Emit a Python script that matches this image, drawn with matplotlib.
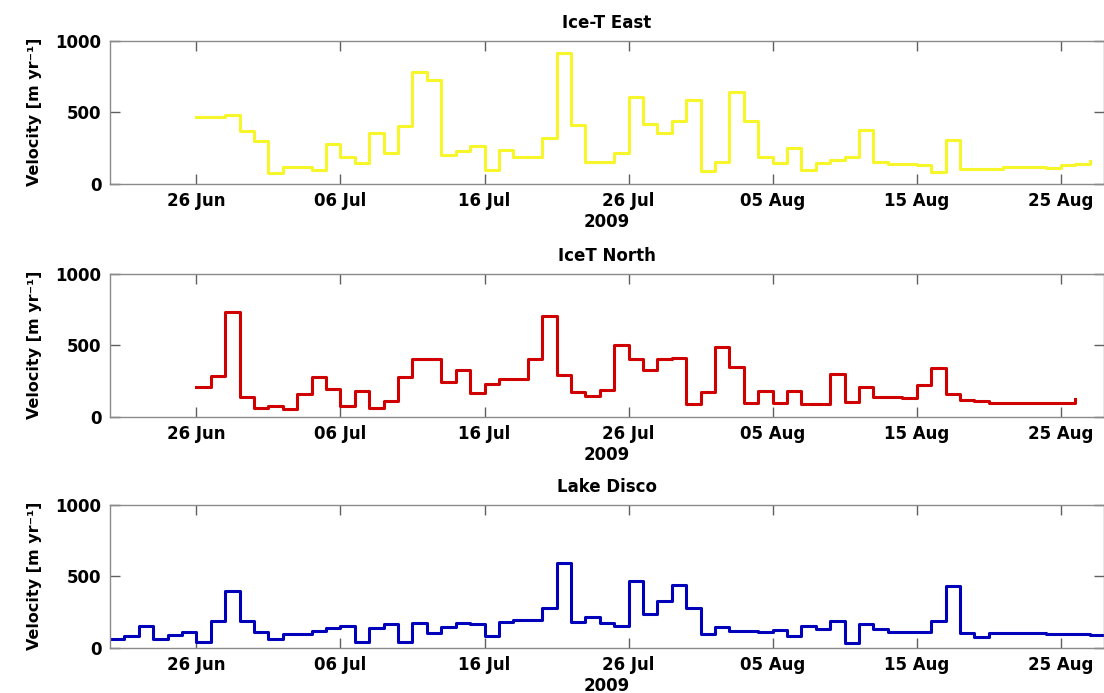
import numpy as np
import matplotlib
matplotlib.use("Agg")
import matplotlib.pyplot as plt
import matplotlib.dates as mdates

plt.rcParams["font.family"] = "DejaVu Sans"
plt.rcParams["font.weight"] = "bold"

# daily velocities (m/yr), one value per day from the start date
east_start = "2009-06-26"
east = [465, 468, 480, 368, 303, 80, 120, 120, 100, 276, 188, 143, 356, 218,
        402, 782, 724, 200, 230, 264, 99, 237, 188, 188, 318, 915, 414, 154,
        154, 214, 609, 421, 356, 437, 586, 92, 156, 639, 437, 191, 145, 248,
        99, 143, 166, 188, 379, 154, 140, 138, 135, 85, 306, 103, 103, 105,
        120, 118, 115, 112, 135, 140, 161]

north_start = "2009-06-26"
north = [207, 283, 731, 138, 62, 80, 53, 161, 276, 195, 74, 179, 62, 110,
         280, 402, 402, 246, 326, 166, 230, 264, 264, 402, 705, 294, 172, 149,
         191, 499, 407, 326, 402, 414, 92, 172, 490, 349, 99, 179, 97, 179,
         87, 87, 303, 103, 207, 140, 138, 135, 223, 340, 161, 115, 112, 100,
         97, 97, 97, 98, 97, 126]

disco_start = "2009-06-20"
disco = [64, 87, 156, 62, 92, 115, 39, 191, 395, 189, 115, 64, 97, 97, 120,
         143, 156, 44, 138, 166, 41, 177, 108, 149, 172, 166, 87, 179, 195,
         195, 276, 593, 184, 214, 172, 156, 464, 234, 329, 437, 276, 99, 145,
         122, 122, 110, 126, 87, 156, 131, 189, 34, 166, 133, 115, 115, 115,
         189, 432, 108, 80, 105, 108, 108, 102, 100, 100, 97, 92, 90]

titles = ["Ice-T East", "IceT North", "Lake Disco"]
colors = ["#f6f62a", "#d00000", "#0000bb"]
tick_dates = ["2009-06-26", "2009-07-06", "2009-07-16", "2009-07-26",
              "2009-08-05", "2009-08-15", "2009-08-25"]
xlim = ["2009-06-20", "2009-08-28"]

series = [(east_start, east), (north_start, north), (disco_start, disco)]
bottoms = [0.7345, 0.3983, 0.0649]

fig = plt.figure(figsize=(11.04, 6.93), dpi=100)
for (start, vals), title, color, b in zip(series, titles, colors, bottoms):
    ax = fig.add_axes([0.0996, b, 0.9004, 0.207])
    days = np.datetime64(start) + np.arange(len(vals))
    ax.step(days.astype("datetime64[D]").astype(object), vals,
            where="post", color=color, lw=2.2)
    ax.set_xlim(np.datetime64(xlim[0]).astype(object),
                np.datetime64(xlim[1]).astype(object))
    ax.set_ylim(0, 1000)
    ax.set_yticks([0, 500, 1000])
    ax.set_xticks([np.datetime64(d).astype(object) for d in tick_dates])
    ax.xaxis.set_major_formatter(mdates.DateFormatter("%d %b"))
    ax.tick_params(direction="in", length=7, width=1, color="#606060",
                   top=True, right=True, labelsize=12, pad=6)
    for s in ax.spines.values():
        s.set_color("#8a8a8a")
        s.set_linewidth(1)
    ax.set_title(title, fontsize=12, fontweight="bold", pad=9)
    ax.set_xlabel("2009", fontsize=12, fontweight="bold", labelpad=2)
    ax.set_ylabel("Velocity [m yr\u207b\u00b9]", fontsize=11.5,
                  fontweight="bold", labelpad=10)

fig.savefig("out.png", dpi=100)
